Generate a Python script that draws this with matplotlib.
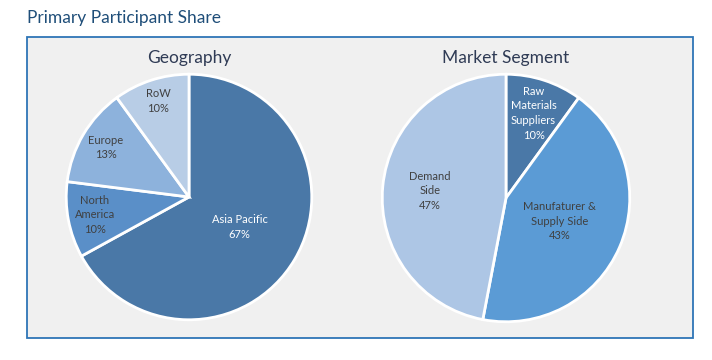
import numpy as np
import matplotlib.pyplot as plt
from matplotlib.patches import Rectangle

plt.rcParams['font.family'] = ['Lato', 'DejaVu Sans']

geo_labels = ["Asia Pacific", "North\nAmerica", "Europe", "RoW"]
geo_values = [67, 10, 13, 10]
geo_colors = ["#4a78a7", "#5a8fc8", "#8db2dc", "#b8cde6"]
geo_text = ["white", "#404040", "#404040", "#404040"]
geo_dist = [0.48, 0.78, 0.79, 0.82]

seg_labels = ["Raw\nMaterials\nSuppliers", "Manufaturer &\nSupply Side", "Demand\nSide"]
seg_values = [10, 43, 47]
seg_colors = ["#4a78a7", "#5b9bd5", "#adc6e5"]
seg_text = ["white", "#404040", "#404040"]
seg_dist = [0.72, 0.47, 0.62]

W, H = 712, 360
fig = plt.figure(figsize=(W / 100, H / 100), dpi=100)
fig.patch.set_facecolor("white")

# background panel
bg = fig.add_axes([0, 0, 1, 1], zorder=-5)
bg.set_xlim(0, W)
bg.set_ylim(H, 0)
bg.axis("off")
bg.add_patch(Rectangle((27, 37), 666, 301, facecolor="#f0f0f0",
                       edgecolor="#2e75b6", lw=1.3))
bg.text(27, 18, "Primary Participant Share", fontsize=12.5,
        color="#1f4e79", va="center", ha="left")


def draw_pie(cx, cy, r, title, labels, values, colors, tcolors, dists):
    ax = fig.add_axes([(cx - r) / W, 1 - (cy + r) / H, 2 * r / W, 2 * r / H])
    wedges, _ = ax.pie(values, colors=colors, startangle=90, counterclock=False,
                       wedgeprops=dict(edgecolor="white", linewidth=2))
    for w, lab, v, tc, d in zip(wedges, labels, values, tcolors, dists):
        a = np.deg2rad((w.theta1 + w.theta2) / 2)
        ax.text(d * np.cos(a), d * np.sin(a), f"{lab}\n{v}%", ha="center",
                va="center", fontsize=8, color=tc, linespacing=1.4)
    ax.set_xlim(-1.01, 1.01)
    ax.set_ylim(-1.01, 1.01)
    ax.set_aspect("equal")
    bg.text(cx, 58, title, fontsize=12.5, color="#2f3b55",
            ha="center", va="center")


draw_pie(189, 197, 124, "Geography", geo_labels, geo_values, geo_colors, geo_text, geo_dist)
draw_pie(506, 198, 125, "Market Segment", seg_labels, seg_values, seg_colors, seg_text, seg_dist)

fig.savefig("out.png", dpi=100, facecolor=fig.get_facecolor())
